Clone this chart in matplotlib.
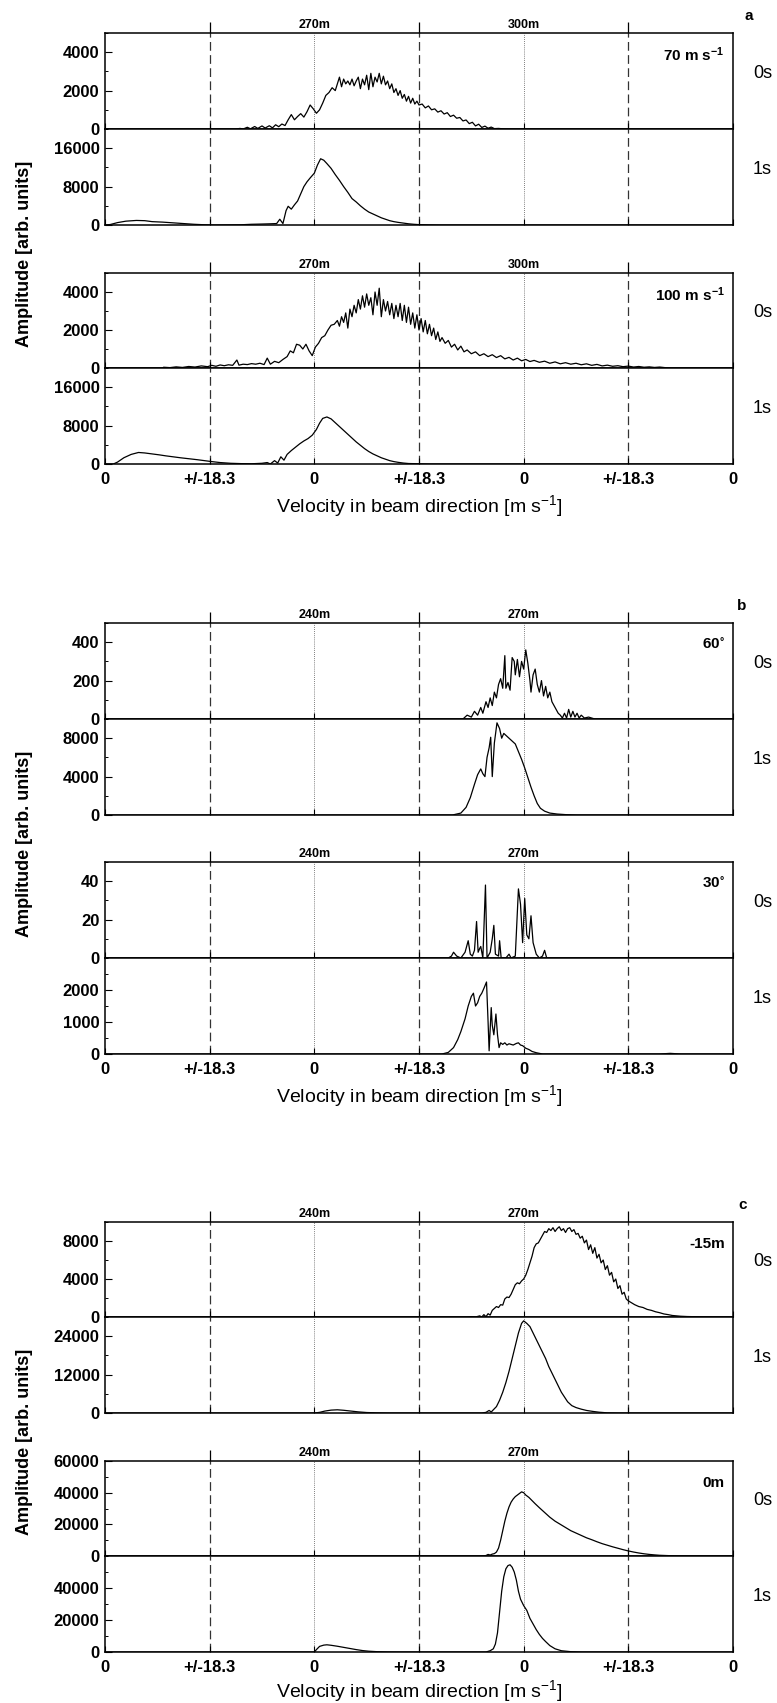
import numpy as np
import matplotlib
matplotlib.use('Agg')
from matplotlib import pyplot as plt
from matplotlib.ticker import MultipleLocator

plt.rcParams['font.family'] = ['Liberation Sans', 'DejaVu Sans']
plt.rcParams['font.weight'] = 'bold'
plt.rcParams['mathtext.default'] = 'regular'

# ---- spectra: (velocity position, amplitude) ----
A70_0S = [(0,0),(1.25,0),(1.29,30),(1.32,0),(1.36,90),(1.39,10),(1.43,130),(1.46,30),(1.50,160),(1.53,50),
          (1.57,170),(1.60,60),(1.63,220),(1.66,120),(1.69,260),(1.72,180),(1.75,480),(1.78,750),(1.81,480),
          (1.84,650),(1.87,800),(1.90,620),(1.93,900),(1.96,1250),(1.99,1050),(2.02,820),(2.05,1000),(2.08,1350),
          (2.11,1750),(2.14,1900),(2.17,2150),(2.20,2000),(2.22,2350),(2.24,2700),(2.26,2200),(2.28,2600),
          (2.30,2350),(2.32,2500),(2.34,2300),(2.36,2600),(2.38,2250),(2.40,2500),(2.42,2700),(2.44,2100),
          (2.46,2600),(2.48,2300),(2.50,2800),(2.52,2050),(2.54,2900),(2.56,2200),(2.58,2700),(2.60,2450),
          (2.62,2900),(2.64,2350),(2.66,2750),(2.68,2300),(2.70,2500),(2.72,2100),(2.74,2350),(2.76,1900),
          (2.78,2100),(2.80,1750),(2.82,2000),(2.84,1600),(2.86,1800),(2.88,1450),(2.90,1700),(2.92,1350),
          (2.94,1600),(2.96,1300),(2.98,1450),(3.00,1250),(3.03,1300),(3.06,1100),(3.09,1200),(3.12,1000),
          (3.15,1050),(3.18,880),(3.21,950),(3.24,780),(3.27,850),(3.30,650),(3.33,720),(3.36,560),(3.39,600),
          (3.42,420),(3.45,470),(3.48,280),(3.51,350),(3.54,160),(3.57,250),(3.60,80),(3.63,150),(3.66,40),
          (3.69,100),(3.72,20),(3.76,30),(3.80,10),(3.85,0),(6,0)]
A70_1S = [(0,0),(0.05,100),(0.12,500),(0.2,800),(0.3,950),(0.38,900),(0.45,700),(0.55,600),(0.65,450),(0.75,300),
          (0.85,150),(0.95,50),(1.05,0),(1.30,50),(1.40,150),(1.50,200),(1.58,250),(1.64,300),(1.67,1200),
          (1.70,300),(1.73,3000),(1.75,3900),(1.78,3300),(1.81,4200),(1.84,5000),(1.87,6500),(1.90,8000),
          (1.93,9000),(1.96,9800),(2.00,10800),(2.03,12500),(2.06,13800),(2.09,13500),(2.12,12800),(2.16,11800),
          (2.20,10500),(2.24,9300),(2.28,8000),(2.32,6800),(2.36,5500),(2.40,4800),(2.44,4000),(2.48,3300),
          (2.52,2700),(2.56,2300),(2.60,1900),(2.64,1500),(2.68,1200),(2.72,900),(2.76,700),(2.80,550),
          (2.85,400),(2.90,250),(2.95,150),(3.0,80),(3.1,30),(3.2,0),(6,0)]
A100_0S = [(0,0),(0.55,0),(0.56,40),(0.62,20),(0.68,60),(0.74,30),(0.80,80),(0.86,50),(0.92,110),(0.98,70),
           (1.02,140),(1.06,90),(1.10,160),(1.14,120),(1.18,170),(1.22,140),(1.26,420),(1.28,150),(1.32,200),
           (1.36,180),(1.40,230),(1.44,200),(1.48,250),(1.52,180),(1.55,520),(1.58,200),(1.62,350),(1.66,280),
           (1.70,450),(1.74,600),(1.77,900),(1.80,800),(1.83,1250),(1.86,1200),(1.89,1000),(1.92,1250),
           (1.95,900),(1.98,650),(2.01,1100),(2.04,1300),(2.07,1600),(2.10,1700),(2.13,2000),(2.16,2250),
           (2.19,2300),(2.22,2500),(2.24,2200),(2.26,2700),(2.28,2400),(2.30,2900),(2.32,2100),(2.34,3100),
           (2.36,2700),(2.38,3300),(2.40,2900),(2.42,3600),(2.44,3100),(2.46,3800),(2.48,3200),(2.50,3900),
           (2.52,3300),(2.54,3700),(2.56,2800),(2.58,4000),(2.60,3300),(2.62,4200),(2.64,2700),(2.66,3600),
           (2.68,3000),(2.70,3500),(2.72,2800),(2.74,3400),(2.76,2600),(2.78,3300),(2.80,2700),(2.82,3400),
           (2.84,2500),(2.86,3300),(2.88,2400),(2.90,3200),(2.92,2300),(2.94,2900),(2.96,2100),(2.98,2800),
           (3.00,2000),(3.02,2600),(3.04,1900),(3.06,2500),(3.08,1800),(3.10,2300),(3.12,1700),(3.14,2100),
           (3.16,1500),(3.18,1900),(3.20,1400),(3.22,1600),(3.25,1300),(3.28,1450),(3.31,1100),(3.34,1250),
           (3.37,950),(3.40,1150),(3.43,850),(3.46,950),(3.50,750),(3.54,850),(3.58,650),(3.62,750),(3.66,600),
           (3.70,700),(3.74,550),(3.78,650),(3.82,480),(3.86,560),(3.90,420),(3.94,520),(3.98,380),(4.02,450),
           (4.06,340),(4.10,400),(4.15,300),(4.20,360),(4.25,250),(4.30,320),(4.35,220),(4.40,280),(4.45,200),
           (4.50,250),(4.55,170),(4.60,220),(4.65,140),(4.70,190),(4.75,110),(4.80,150),(4.85,90),(4.90,120),
           (4.95,70),(5.0,100),(5.05,50),(5.10,80),(5.15,40),(5.20,60),(5.25,30),(5.30,50),(5.35,20),(5.40,0),(6,0)]
A100_1S = [(0,0),(0.08,0),(0.12,400),(0.18,1300),(0.25,2000),(0.32,2400),(0.38,2300),(0.45,2100),(0.52,1900),
           (0.58,1700),(0.65,1500),(0.72,1300),(0.80,1100),(0.88,900),(0.95,700),(1.02,500),(1.10,300),
           (1.20,150),(1.30,80),(1.40,50),(1.50,150),(1.55,300),(1.58,0),(1.62,700),(1.65,200),(1.68,1500),
           (1.71,800),(1.74,2000),(1.78,2800),(1.82,3500),(1.86,4200),(1.90,4800),(1.94,5300),(1.98,6000),
           (2.02,7200),(2.05,8500),(2.08,9500),(2.12,9800),(2.16,9400),(2.20,8600),(2.24,7800),(2.28,7000),
           (2.32,6200),(2.36,5400),(2.40,4600),(2.44,3900),(2.48,3200),(2.52,2600),(2.56,2100),(2.60,1700),
           (2.64,1300),(2.68,1000),(2.72,700),(2.76,500),(2.80,350),(2.85,200),(2.90,100),(3.0,50),(3.1,0),(6,0)]

B60_0S = [(0,0),(3.42,0),(3.46,20),(3.50,10),(3.53,40),(3.56,20),(3.59,60),(3.61,30),(3.64,90),(3.66,60),
          (3.68,110),(3.70,70),(3.72,140),(3.74,110),(3.76,180),(3.78,210),(3.80,160),(3.82,330),(3.83,160),
          (3.85,190),(3.87,150),(3.89,320),(3.91,300),(3.92,230),(3.94,310),(3.96,220),(3.98,300),(4.00,260),
          (4.02,360),(4.04,290),(4.06,200),(4.07,140),(4.09,230),(4.11,260),(4.13,180),(4.15,140),(4.17,200),
          (4.19,120),(4.21,170),(4.23,110),(4.25,140),(4.27,90),(4.29,70),(4.31,50),(4.33,30),(4.35,20),
          (4.37,5),(4.39,30),(4.41,5),(4.43,50),(4.45,10),(4.47,40),(4.49,10),(4.51,30),(4.53,5),(4.55,20),
          (4.58,5),(4.62,10),(4.68,0),(6,0)]
B60_1S = [(0,0),(3.32,0),(3.40,200),(3.45,800),(3.49,1800),(3.53,3200),(3.56,4200),(3.59,4800),(3.61,4300),
          (3.63,4000),(3.65,6000),(3.67,7000),(3.685,8100),(3.70,4000),(3.72,7500),(3.745,9600),(3.77,9000),
          (3.79,8000),(3.81,8500),(3.83,8300),(3.86,8000),(3.89,7700),(3.92,7400),(3.95,6600),(3.98,5800),
          (4.01,4900),(4.04,3900),(4.07,2900),(4.10,2000),(4.13,1200),(4.16,700),(4.20,400),(4.25,200),
          (4.32,100),(4.40,40),(4.50,0),(6,0)]
B30_0S = [(0,0),(3.28,0),(3.31,1),(3.33,3),(3.36,1),(3.40,0),(3.44,3),(3.47,9),(3.49,2),(3.51,1),(3.53,4),
          (3.55,19),(3.565,3),(3.58,5),(3.59,6),(3.61,0),(3.635,38),(3.65,0),(3.68,3),(3.70,10),(3.715,17),
          (3.73,2),(3.76,1),(3.77,9),(3.785,0),(3.83,0),(3.86,2),(3.88,0),(3.92,1),(3.95,36),(3.97,28),
          (3.99,8),(4.01,31),(4.03,12),(4.05,10),(4.07,22),(4.09,8),(4.12,2),(4.15,0),(4.18,1),(4.20,4),
          (4.22,0),(6,0)]
B30_1S = [(0,0),(3.22,0),(3.28,50),(3.33,200),(3.37,450),(3.40,700),(3.44,1100),(3.47,1500),(3.50,1800),
          (3.52,1900),(3.54,1500),(3.56,1600),(3.58,1800),(3.60,1900),(3.62,2050),(3.645,2250),(3.66,1000),
          (3.67,100),(3.69,1450),(3.70,900),(3.715,600),(3.735,1250),(3.75,600),(3.765,200),(3.78,350),
          (3.80,300),(3.82,350),(3.84,280),(3.86,320),(3.88,300),(3.90,280),(3.93,330),(3.95,350),(3.97,280),
          (3.99,260),(4.02,180),(4.05,140),(4.08,80),(4.12,40),(4.18,0),(5.30,0),(5.40,20),(5.50,0),(6,0)]

C15_0S = [(0,0),(3.46,0),(3.50,40),(3.54,0),(3.58,120),(3.60,0),(3.62,250),(3.64,30),(3.66,350),(3.68,200),
          (3.70,700),(3.72,900),(3.74,1100),(3.76,1000),(3.78,1300),(3.80,1250),(3.82,1900),(3.84,2100),
          (3.86,2050),(3.88,2400),(3.90,2900),(3.92,3400),(3.94,3600),(3.96,3500),(3.98,3800),(4.00,4000),
          (4.02,4400),(4.04,5000),(4.06,5700),(4.08,6400),(4.10,7300),(4.12,7700),(4.14,7800),(4.16,8200),
          (4.18,8600),(4.20,9000),(4.22,8900),(4.24,9300),(4.26,9100),(4.28,9400),(4.30,9000),(4.32,9300),
          (4.34,9500),(4.36,9100),(4.38,9300),(4.40,8900),(4.42,9300),(4.44,9400),(4.46,9000),(4.48,9200),
          (4.50,8700),(4.52,8800),(4.54,8300),(4.56,8500),(4.58,7800),(4.60,8100),(4.62,7100),(4.64,7600),
          (4.66,6700),(4.68,7300),(4.70,6200),(4.72,6600),(4.74,5700),(4.76,6000),(4.78,5000),(4.80,5400),
          (4.82,4400),(4.84,4700),(4.86,3700),(4.88,4000),(4.90,3000),(4.92,3300),(4.94,2400),(4.96,2600),
          (4.98,1900),(5.00,1700),(5.03,1500),(5.06,1300),(5.10,1100),(5.14,1000),(5.18,800),(5.22,700),
          (5.26,550),(5.30,450),(5.34,320),(5.38,250),(5.42,160),(5.46,120),(5.50,80),(5.56,50),(5.64,30),
          (5.75,10),(5.90,0),(6,0)]
C15_1S = [(0,0),(2.0,0),(2.05,200),(2.10,600),(2.16,900),(2.22,1000),(2.28,850),(2.35,600),(2.42,350),
          (2.50,150),(2.60,50),(2.72,0),(3.60,0),(3.64,200),(3.67,800),(3.69,300),(3.71,1000),(3.74,2000),
          (3.77,4000),(3.80,6500),(3.83,9500),(3.86,13000),(3.89,17000),(3.92,21000),(3.95,25000),(3.98,28000),
          (4.00,28800),(4.03,28000),(4.06,27000),(4.09,25000),(4.12,23000),(4.15,21000),(4.18,19000),
          (4.21,17000),(4.24,14500),(4.27,12500),(4.30,10500),(4.33,8500),(4.36,6500),(4.39,5000),(4.42,3500),
          (4.46,2300),(4.50,1700),(4.55,1200),(4.60,800),(4.66,500),(4.72,250),(4.80,50),(4.90,0),(6,0)]
C0_0S = [(0,0),(3.60,0),(3.64,300),(3.66,1000),(3.68,600),(3.70,1200),(3.72,1500),(3.74,2500),(3.76,5000),
         (3.78,10000),(3.80,16000),(3.82,22000),(3.84,27000),(3.86,31000),(3.88,34000),(3.90,36000),
         (3.92,37500),(3.94,38500),(3.96,39500),(3.98,40500),(4.00,40000),(4.02,38500),(4.05,37000),
         (4.08,35000),(4.11,33000),(4.15,30500),(4.20,27500),(4.25,24500),(4.30,22000),(4.35,20000),
         (4.40,18000),(4.45,16000),(4.50,14500),(4.55,13000),(4.60,11500),(4.65,10300),(4.70,9000),
         (4.75,7800),(4.80,6800),(4.85,5800),(4.90,4900),(4.95,4000),(5.00,3200),(5.05,2500),(5.10,1900),
         (5.15,1400),(5.20,1000),(5.25,700),(5.30,450),(5.38,250),(5.46,100),(5.56,40),(5.70,0),(6,0)]
C0_1S = [(0,0),(2.0,0),(2.02,1500),(2.05,3500),(2.09,4300),(2.12,4500),(2.16,4200),(2.22,3600),(2.28,2900),
         (2.34,2200),(2.40,1500),(2.46,900),(2.52,500),(2.60,200),(2.70,50),(2.80,0),(3.64,0),(3.68,800),
         (3.71,2000),(3.73,5000),(3.75,12000),(3.77,25000),(3.79,38000),(3.81,47000),(3.83,52000),
         (3.85,54000),(3.87,54500),(3.89,53000),(3.91,50000),(3.93,45000),(3.95,38000),(3.97,33000),
         (4.00,29000),(4.03,26000),(4.06,21000),(4.09,17500),(4.12,14000),(4.15,11000),(4.18,8500),
         (4.21,6500),(4.25,4000),(4.30,2000),(4.36,800),(4.45,200),(4.55,0),(6,0)]

XTICKLABELS = ['0', '+/-18.3', '0', '+/-18.3', '0', '+/-18.3', '0']
TOP_A = ['270m', '300m']
TOP_BC = ['240m', '270m']

# pair: (curve 0s, curve 1s, ylim 0s, step 0s, ylim 1s, step 1s, condition, top labels)
PAIRS = [
    (A70_0S, A70_1S, 5000, 2000, 20000, 8000, '70 m s$^{-1}$', TOP_A),
    (A100_0S, A100_1S, 5000, 2000, 20000, 8000, '100 m s$^{-1}$', TOP_A),
    (B60_0S, B60_1S, 500, 200, 10000, 4000, '60$^{\\circ}$', TOP_BC),
    (B30_0S, B30_1S, 50, 20, 3000, 1000, '30$^{\\circ}$', TOP_BC),
    (C15_0S, C15_1S, 10000, 4000, 30000, 12000, '-15m', TOP_BC),
    (C0_0S, C0_1S, 60000, 20000, 60000, 20000, '0m', TOP_BC),
]

# ---- layout in pixels of the 777x1703 figure ----
W, H = 777, 1703
XL, XR = 105, 733
ROWS = [(33, 129, 225), (273, 368, 464), (623, 719, 815),
        (862, 958, 1054), (1222, 1317, 1413), (1461, 1556, 1652)]

fig = plt.figure(figsize=(W / 100, H / 100), dpi=100)


def add_px_axes(top, bottom):
    return fig.add_axes([XL / W, 1 - bottom / H, (XR - XL) / W, (bottom - top) / H])


def style_axes(ax, ymax, step, upper, show_xlabels):
    ax.set_xlim(0, 6)
    ax.set_ylim(0, ymax)
    ticks = [t for t in np.arange(0, ymax + 1, step) if upper or t < ymax]
    ax.set_yticks(ticks)
    ax.set_yticklabels([str(int(t)) for t in ticks])
    ax.yaxis.set_minor_locator(MultipleLocator(step / 2))
    ax.set_xticks(range(7))
    ax.set_xticklabels(XTICKLABELS if show_xlabels else [])
    ax.tick_params(axis='y', which='major', direction='in', length=5, width=0.8, labelsize=12, pad=4)
    ax.tick_params(axis='y', which='minor', direction='in', length=2.5, width=0.7)
    ax.tick_params(axis='x', direction='in', length=4, width=0.8, labelsize=12, pad=6,
                   labelbottom=show_xlabels)
    for s in ax.spines.values():
        s.set_linewidth(1.1)
    for xv in (1, 3, 5):
        ax.axvline(xv, color='#333333', lw=0.9, ls=(0, (7, 3.5)), zorder=1)
    for xv in (2, 4):
        ax.axvline(xv, color='#555555', lw=0.6, ls=(0, (1, 1.5)), zorder=1)


for i, (c0, c1, y0, s0, y1, s1, cond, toplabels) in enumerate(PAIRS):
    top, mid, bot = ROWS[i]
    ax0 = add_px_axes(top, mid)
    ax1 = add_px_axes(mid, bot)
    style_axes(ax0, y0, s0, True, False)
    style_axes(ax1, y1, s1, False, i % 2 == 1)

    for ax, curve in ((ax0, c0), (ax1, c1)):
        xs, ys = np.array(curve, dtype=float).T
        ax.plot(xs, ys, color='black', lw=0.9, zorder=3)

    # short solid marks above the upper frame and the range labels
    ax0.vlines([1, 3, 5], 1, 1.115, transform=ax0.get_xaxis_transform(),
               color='black', lw=0.9, clip_on=False)
    for xv, lab in zip((2, 4), toplabels):
        ax0.text(xv, 1.085, lab, transform=ax0.get_xaxis_transform(),
                 ha='center', va='center', fontsize=9)

    ax0.text(0.987, 0.77, cond, transform=ax0.transAxes, ha='right', va='center', fontsize=11)
    ax0.text(1.032, 0.58, '0s', transform=ax0.transAxes, ha='left', va='center',
             fontsize=13, fontweight='normal')
    ax1.text(1.032, 0.58, '1s', transform=ax1.transAxes, ha='left', va='center',
             fontsize=13, fontweight='normal')

# panel letters, y labels and x labels
for letter, lx, ly in (('a', 749, 16), ('b', 742, 606), ('c', 743, 1205)):
    fig.text(lx / W, 1 - ly / H, letter, ha='center', va='center', fontsize=11)

for p in range(3):
    top = ROWS[2 * p][0]
    bot = ROWS[2 * p + 1][2]
    fig.text(25 / W, 1 - ((top + bot) / 2 + 5) / H, 'Amplitude [arb. units]', rotation=90,
             ha='center', va='center', fontsize=13)
    ly = min(bot + 42, H - 12)
    fig.text((XL + XR) / 2 / W, 1 - ly / H, 'Velocity in beam direction [m s$^{-1}$]',
             ha='center', va='center', fontsize=14, fontweight='normal')

fig.savefig('out.png', dpi=100)
